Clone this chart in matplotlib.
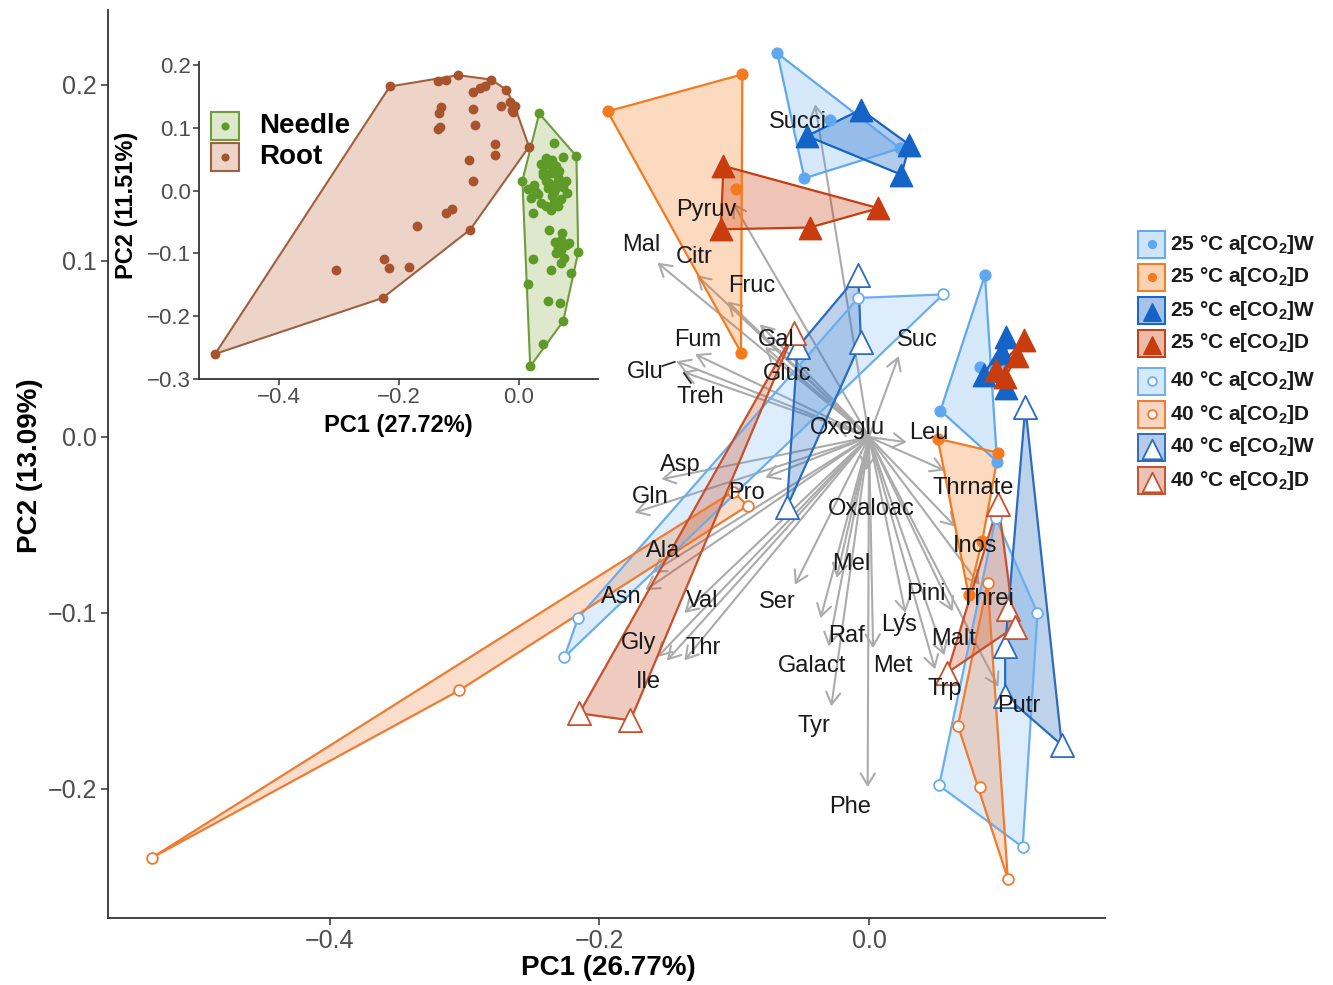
import matplotlib
matplotlib.use('Agg')
import matplotlib.pyplot as plt
from matplotlib.patches import Polygon, Rectangle

plt.rcParams['font.family'] = ['Liberation Sans', 'DejaVu Sans']
plt.rcParams['mathtext.fontset'] = 'custom'
plt.rcParams['mathtext.rm'] = 'Liberation Sans:bold'
plt.rcParams['mathtext.it'] = 'Liberation Sans:bold'
plt.rcParams['mathtext.bf'] = 'Liberation Sans:bold'

# ---------------- main PCA scores (two clusters per treatment) ----------------
g25aW_pc1 = [[-0.068, -0.029, 0.023, -0.048], [0.086, 0.082, 0.053, 0.095]]
g25aW_pc2 = [[0.218, 0.180, 0.164, 0.147], [0.092, 0.040, 0.015, -0.014]]
g25aD_pc1 = [[-0.194, -0.094, -0.095, -0.099], [0.051, 0.096, 0.084, 0.074]]
g25aD_pc2 = [[0.185, 0.206, 0.048, 0.141], [-0.001, -0.009, -0.059, -0.090]]
g25eW_pc1 = [[-0.046, -0.006, 0.030, 0.024], [0.102, 0.085, 0.102, 0.099]]
g25eW_pc2 = [[0.171, 0.186, 0.166, 0.149], [0.057, 0.035, 0.028, 0.048]]
g25eD_pc1 = [[-0.108, 0.007, -0.044, -0.110], [0.115, 0.110, 0.094, 0.101]]
g25eD_pc2 = [[0.154, 0.130, 0.119, 0.118], [0.055, 0.046, 0.038, 0.034]]
g40aW_pc1 = [[-0.008, 0.055, -0.216, -0.226], [0.094, 0.125, 0.114, 0.052]]
g40aW_pc2 = [[0.079, 0.081, -0.103, -0.125], [-0.046, -0.100, -0.233, -0.198]]
g40aD_pc1 = [[-0.532, -0.304, -0.090, -0.101], [0.088, 0.066, 0.082, 0.103]]
g40aD_pc2 = [[-0.239, -0.144, -0.039, -0.031], [-0.083, -0.164, -0.199, -0.251]]
g40eW_pc1 = [[-0.008, -0.006, -0.053, -0.061], [0.116, 0.143, 0.101, 0.101]]
g40eW_pc2 = [[0.092, 0.054, 0.051, -0.040], [0.017, -0.175, -0.147, -0.119]]
g40eD_pc1 = [[-0.215, -0.177, -0.056], [0.096, 0.103, 0.108, 0.058]]
g40eD_pc2 = [[-0.157, -0.161, 0.059], [-0.038, -0.098, -0.108, -0.134]]

group_labels = ['25 °C a[CO$_2$]W', '25 °C a[CO$_2$]D', '25 °C e[CO$_2$]W', '25 °C e[CO$_2$]D',
                '40 °C a[CO$_2$]W', '40 °C a[CO$_2$]D', '40 °C e[CO$_2$]W', '40 °C e[CO$_2$]D']

# ---------------- loadings ----------------
metabolites = ['Succi', 'Pyruv', 'Mal', 'Citr', 'Fruc', 'Gal', 'Fum', 'Glu', 'Treh', 'Gluc',
               'Suc', 'Oxoglu', 'Leu', 'Thrnate', 'Asp', 'Gln', 'Pro', 'Oxaloac', 'Inos', 'Ala',
               'Asn', 'Val', 'Gly', 'Ile', 'Thr', 'Ser', 'Mel', 'Raf', 'Galact', 'Tyr',
               'Phe', 'Met', 'Lys', 'Pini', 'Threi', 'Malt', 'Trp', 'Putr']
load_pc1 = [-0.040, -0.101, -0.157, -0.128, -0.105, -0.081, -0.129, -0.143, -0.138, -0.077,
            0.022, -0.025, 0.028, 0.056, -0.154, -0.174, -0.077, -0.002, 0.064, -0.161,
            -0.166, -0.137, -0.157, -0.150, -0.137, -0.055, -0.024, -0.036, -0.030, -0.028,
            -0.001, 0.003, 0.027, 0.062, 0.082, 0.056, 0.049, 0.096]
load_pc2 = [0.189, 0.133, 0.099, 0.092, 0.077, 0.064, 0.047, 0.043, 0.037, 0.051,
            0.046, 0.007, -0.003, -0.019, -0.024, -0.043, -0.023, -0.019, -0.051, -0.077,
            -0.087, -0.100, -0.125, -0.127, -0.127, -0.084, -0.080, -0.103, -0.119, -0.153,
            -0.199, -0.120, -0.100, -0.099, -0.084, -0.124, -0.132, -0.142]
label_pc1 = [-0.053, -0.121, -0.169, -0.130, -0.087, -0.069, -0.127, -0.166, -0.125, -0.061,
             0.036, -0.016, 0.044, 0.077, -0.140, -0.162, -0.091, 0.002, 0.079, -0.153,
             -0.184, -0.124, -0.171, -0.164, -0.123, -0.068, -0.013, -0.017, -0.042, -0.041,
             -0.014, 0.018, 0.022, 0.042, 0.088, 0.063, 0.056, 0.111]
label_pc2 = [0.179, 0.129, 0.109, 0.102, 0.086, 0.055, 0.055, 0.037, 0.023, 0.036,
             0.055, 0.005, 0.002, -0.029, -0.016, -0.034, -0.032, -0.041, -0.062, -0.065,
             -0.091, -0.093, -0.117, -0.139, -0.120, -0.094, -0.072, -0.113, -0.130, -0.164,
             -0.210, -0.130, -0.107, -0.089, -0.092, -0.115, -0.143, -0.153]
# repel connector segments (label -> arrow tip) for a few crowded labels
connector_names = ['Glu', 'Treh', 'Lys']

# ---------------- inset scores ----------------
root_pc1 = [-0.506, -0.215, -0.121, -0.101, -0.046, -0.021, -0.007, 0.017, -0.081, -0.227,
            -0.065, -0.076, -0.076, -0.073, -0.130, -0.133, -0.131, -0.134, -0.029, -0.012,
            -0.039, -0.040, -0.083, -0.077, -0.112, -0.121, -0.169, -0.225, -0.217, -0.183,
            -0.305, -0.135, -0.010, -0.056, -0.014]
root_pc2 = [-0.260, 0.166, 0.176, 0.184, 0.177, 0.161, 0.135, 0.070, -0.062, -0.171,
            0.163, 0.158, 0.130, 0.105, 0.133, 0.123, 0.101, 0.098, 0.135, 0.129,
            0.075, 0.057, 0.049, 0.016, -0.029, -0.036, -0.056, -0.109, -0.123, -0.122,
            -0.126, 0.175, 0.125, 0.166, 0.141]
needle_pc1 = [0.034, 0.096, 0.099, 0.074, 0.041, 0.019, 0.016, 0.006, 0.059, 0.037,
              0.048, 0.056, 0.073, 0.062, 0.053, 0.045, 0.064, 0.078, 0.081, 0.070,
              0.059, 0.037, 0.053, 0.021, 0.015, 0.023, 0.051, 0.070, 0.084, 0.078,
              0.070, 0.062, 0.070, 0.053, 0.087, 0.024, 0.048, 0.068, 0.043, 0.026,
              0.051, 0.059, 0.076, 0.065, 0.040, 0.066, 0.032, 0.045, 0.057, 0.067,
              0.040, 0.049, 0.061, 0.074, 0.056, 0.066, 0.072, 0.060, 0.029, 0.045]
needle_pc2 = [0.123, 0.055, -0.098, -0.208, -0.245, -0.280, -0.148, 0.016, 0.076, 0.043,
              0.046, 0.049, 0.054, 0.039, 0.028, 0.015, 0.012, 0.015, -0.003, -0.014,
              -0.020, -0.020, -0.030, -0.012, 0.002, -0.036, -0.062, -0.078, -0.084, -0.087,
              -0.095, -0.100, -0.116, -0.126, -0.131, -0.109, -0.176, -0.179, 0.041, 0.009,
              0.012, -0.002, -0.107, -0.091, 0.030, 0.022, -0.005, 0.052, 0.036, 0.031,
              0.025, 0.004, 0.002, 0.006, -0.008, -0.025, -0.068, -0.081, -0.002, -0.024]

# ---------------- styles ----------------
grp_pc1 = [g25aW_pc1, g25aD_pc1, g25eW_pc1, g25eD_pc1, g40aW_pc1, g40aD_pc1, g40eW_pc1, g40eD_pc1]
grp_pc2 = [g25aW_pc2, g25aD_pc2, g25eW_pc2, g25eD_pc2, g40aW_pc2, g40aD_pc2, g40eW_pc2, g40eD_pc2]
grp_color = ['#5fa8f0', '#f57a1e', '#1463c6', '#c83c0e', '#6aaef0', '#f07a30', '#2a6cc2', '#c8502c']
grp_alpha = [0.25, 0.28, 0.33, 0.30, 0.22, 0.25, 0.30, 0.30]
grp_marker = ['o', 'o', '^', '^', 'o', 'o', '^', '^']
grp_filled = [True, True, True, True, False, False, False, False]
grp_size = [60, 60, 260, 260, 60, 60, 280, 280]


def hull(xs, ys):
    pts = sorted(set(zip(xs, ys)))
    if len(pts) < 3:
        return pts

    def cross(o, a, b):
        return (a[0] - o[0]) * (b[1] - o[1]) - (a[1] - o[1]) * (b[0] - o[0])
    lower, upper = [], []
    for p in pts:
        while len(lower) >= 2 and cross(lower[-2], lower[-1], p) <= 0:
            lower.pop()
        lower.append(p)
    for p in reversed(pts):
        while len(upper) >= 2 and cross(upper[-2], upper[-1], p) <= 0:
            upper.pop()
        upper.append(p)
    return lower[:-1] + upper[:-1]


W, H = 1333, 985
fig = plt.figure(figsize=(W / 100, H / 100), dpi=100)
fig.patch.set_facecolor('white')

ax = fig.add_axes([108 / W, (H - 918) / H, (1105 - 108) / W, (918 - 10) / H])
ax.set_xlim(-0.5647, 0.1751)
ax.set_ylim(-0.2733, 0.2426)
for s in ['top', 'right']:
    ax.spines[s].set_visible(False)
for s in ['left', 'bottom']:
    ax.spines[s].set_color('#333333')
    ax.spines[s].set_linewidth(1.3)
ax.set_xticks([-0.4, -0.2, 0.0])
ax.set_xticklabels(['\u22120.4', '\u22120.2', '0.0'])
ax.set_yticks([-0.2, -0.1, 0.0, 0.1, 0.2])
ax.set_yticklabels(['\u22120.2', '\u22120.1', '0.0', '0.1', '0.2'])
ax.tick_params(direction='out', length=5, width=1.1, color='#333333', labelcolor='#4d4d4d',
               labelsize=18, pad=3)

# arrows
for i in range(len(metabolites)):
    ax.annotate('', xy=(load_pc1[i], load_pc2[i]), xytext=(0, 0),
                arrowprops=dict(arrowstyle='->,head_length=0.5,head_width=0.3', color='#ababab',
                                lw=1.5, mutation_scale=17, shrinkA=0, shrinkB=0), zorder=2)

# polygons and points
for g in range(8):
    for c in range(2):
        xs, ys = grp_pc1[g][c], grp_pc2[g][c]
        hp = hull(xs, ys)
        ax.add_patch(Polygon(hp, closed=True, facecolor=grp_color[g], alpha=grp_alpha[g],
                             edgecolor='none', zorder=3))
        ax.add_patch(Polygon(hp, closed=True, facecolor='none', edgecolor=grp_color[g],
                             lw=1.6, zorder=4))
        if grp_filled[g]:
            ax.scatter(xs, ys, s=grp_size[g], marker=grp_marker[g], color=grp_color[g],
                       edgecolors=grp_color[g], linewidths=1.0, zorder=5)
        else:
            ax.scatter(xs, ys, s=grp_size[g], marker=grp_marker[g], facecolors='white',
                       edgecolors=grp_color[g], linewidths=1.3, zorder=5)

for i, name in enumerate(metabolites):
    ax.text(label_pc1[i], label_pc2[i], name, ha='center', va='center', fontsize=17,
            color='#1a1a1a', zorder=6)
    if name in connector_names:
        dx = load_pc1[i] - label_pc1[i]
        dy = load_pc2[i] - label_pc2[i]
        ax.plot([label_pc1[i] + 0.55 * dx, load_pc1[i] - 0.05 * dx],
                [label_pc2[i] + 0.55 * dy, load_pc2[i] - 0.05 * dy],
                color='#222222', lw=1.2, zorder=6)

fig.text(608 / W, 1 - 968 / H, 'PC1 (26.77%)', ha='center', va='center', fontsize=20,
         fontweight='bold')
fig.text(30 / W, 1 - 466 / H, 'PC2 (13.09%)', ha='center', va='center', fontsize=20,
         fontweight='bold', rotation=90)

# ---------------- inset ----------------
ins = fig.add_axes([199 / W, (H - 379) / H, (598 - 199) / W, (379 - 62) / H])
ins.patch.set_alpha(0)
ins.set_xlim(-0.533, 0.132)
ins.set_ylim(-0.3, 0.205)
for s in ['top', 'right']:
    ins.spines[s].set_visible(False)
for s in ['left', 'bottom']:
    ins.spines[s].set_color('#333333')
    ins.spines[s].set_linewidth(1.3)
ins.set_xticks([-0.4, -0.2, 0.0])
ins.set_xticklabels(['\u22120.4', '\u22120.2', '0.0'])
ins.set_yticks([-0.3, -0.2, -0.1, 0.0, 0.1, 0.2])
ins.set_yticklabels(['\u22120.3', '\u22120.2', '\u22120.1', '0.0', '0.1', '0.2'])
ins.tick_params(direction='out', length=4, width=1.1, color='#333333', labelcolor='#4d4d4d',
                labelsize=16, pad=2)

needle_col, needle_edge, needle_fill = '#5e9a28', '#6f9c3c', '#dde8cd'
root_col, root_edge, root_fill = '#a8532c', '#a0603f', '#ecd4c8'
for xs, ys, col, ec, fc in [(root_pc1, root_pc2, root_col, root_edge, root_fill),
                            (needle_pc1, needle_pc2, needle_col, needle_edge, needle_fill)]:
    hp = hull(xs, ys)
    ins.add_patch(Polygon(hp, closed=True, facecolor=fc, edgecolor=ec, lw=1.5, zorder=2))
    ins.scatter(xs, ys, s=50, color=col, zorder=3, linewidths=0)

fig.text(398 / W, 1 - 425 / H, 'PC1 (27.72%)', ha='center', va='center', fontsize=17,
         fontweight='bold')
fig.text(126 / W, 1 - 205 / H, 'PC2 (11.51%)', ha='center', va='center', fontsize=17,
         fontweight='bold', rotation=90)

# ---------------- legends (overlay in pixel coordinates) ----------------
ov = fig.add_axes([0, 0, 1, 1], zorder=10)
ov.set_xlim(0, W)
ov.set_ylim(H, 0)
ov.axis('off')
ov.patch.set_alpha(0)

inset_names = ['Needle', 'Root']
inset_rows = [126, 157]
for name, yy, col, ec, fc in zip(inset_names, inset_rows, [needle_col, root_col],
                                 [needle_edge, root_edge], [needle_fill, root_fill]):
    ov.add_patch(Rectangle((211, yy - 14), 28, 28, facecolor=fc, edgecolor=ec, lw=1.5))
    ov.scatter([225], [yy], s=34, color=col, zorder=11, linewidths=0)
    ov.text(259, yy, name, ha='left', va='center', fontsize=20, fontweight='bold')

leg_rows = [244, 277, 310, 343, 381, 414, 447, 480]
for g in range(8):
    yy = leg_rows[g]
    ov.add_patch(Rectangle((1138, yy - 13.5), 27, 27, facecolor=grp_color[g],
                           alpha=grp_alpha[g] + 0.05, edgecolor='none'))
    ov.add_patch(Rectangle((1138, yy - 13.5), 27, 27, facecolor='none',
                           edgecolor=grp_color[g], lw=1.4))
    ms = 40 if grp_marker[g] == 'o' else 200
    if grp_filled[g]:
        ov.scatter([1151.5], [yy + (2 if grp_marker[g] == '^' else 0)], s=ms * 0.8,
                   marker=grp_marker[g], color=grp_color[g], zorder=11)
    else:
        ov.scatter([1151.5], [yy + (2 if grp_marker[g] == '^' else 0)], s=ms,
                   marker=grp_marker[g], facecolors='white', edgecolors=grp_color[g],
                   linewidths=1.3, zorder=11)
    ov.text(1170, yy, group_labels[g], ha='left', va='center', fontsize=15,
            fontweight='bold', color='#1a1a1a')

fig.savefig('out.png', dpi=100)
